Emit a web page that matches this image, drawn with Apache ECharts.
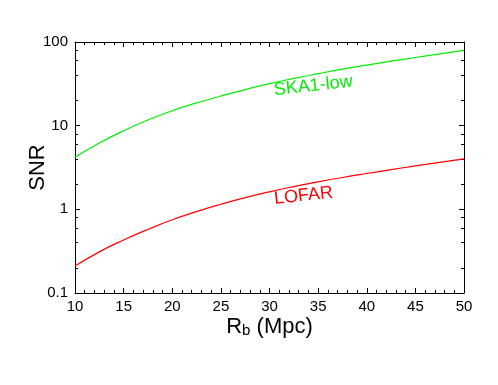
<!DOCTYPE html>
<html lang="en">

<head>
    <meta charset="UTF-8">
    <title>SNR vs Rb</title>
    <script src="https://cdn.jsdelivr.net/npm/echarts@6/dist/echarts.min.js"></script>
    <style>
        body { margin: 0; background: #fff; }
    </style>
</head>

<body>
    <div id="snrChart" style="width: 498px; height: 385px;"></div>

    <script>
        // values
        var rb = [10, 12.5, 15, 17.5, 20, 22.5, 25, 27.5, 30, 32.5, 35, 37.5, 40, 42.5, 45, 47.5, 50];
        var snrSka = [4.2, 6.2, 8.7, 11.7, 15.1, 18.7, 22.6, 27.0, 31.8, 36.7, 41.8, 47.3, 53.0, 59.0, 65.3, 72.0, 79.5];
        var snrLofar = [0.21, 0.31, 0.43, 0.575, 0.75, 0.94, 1.15, 1.38, 1.62, 1.87, 2.13, 2.4, 2.68, 2.98, 3.3, 3.64, 4.0];
        var yMinorTicks = [0.2, 0.4, 0.6, 0.8, 2, 4, 6, 8, 20, 40, 60, 80];
        var labelSka = ['SKA1-low', 34.5, 29.9];
        var labelLofar = ['LOFAR', 33.5, 1.45];

        var font = 'Liberation Sans';

        function pairs(xs, ys) {
            var out = [];
            for (var i = 0; i < xs.length; i++) {
                out.push([xs[i], ys[i]]);
            }
            return out;
        }

        var chartDom = document.getElementById('snrChart');
        var myChart = echarts.init(chartDom, null, { renderer: 'canvas' });

        var lineStyle = { color: '#000', width: 1 };

        var xBase = {
            type: 'value',
            min: 10,
            max: 50,
            interval: 5,
            axisLine: { show: true, onZero: false, lineStyle: lineStyle },
            axisTick: { show: true, inside: true, length: 5, lineStyle: lineStyle },
            minorTick: { show: true, splitNumber: 5, length: 3, lineStyle: lineStyle },
            splitLine: { show: false }
        };

        var yMajor = {
            type: 'log',
            logBase: 10,
            min: 0.1,
            max: 100,
            axisLine: { show: true, onZero: false, lineStyle: lineStyle },
            axisTick: { show: true, inside: true, length: 5, lineStyle: lineStyle },
            splitLine: { show: false }
        };

        var yMinor = {
            type: 'log',
            logBase: 10,
            min: 0.1,
            max: 100,
            axisLine: { show: false },
            axisLabel: { show: false },
            axisTick: { show: true, inside: true, length: 3, customValues: yMinorTicks, lineStyle: lineStyle },
            splitLine: { show: false }
        };

        var option = {
            animation: false,
            backgroundColor: '#fff',
            grid: { left: 75, right: 34, top: 42, bottom: 92 },
            xAxis: [
                Object.assign({}, xBase, {
                    position: 'bottom',
                    axisLabel: { show: true, fontFamily: font, fontSize: 15, color: '#000', margin: 6 },
                    name: '{r|R}{s|b}{r| (Mpc)}',
                    nameLocation: 'middle',
                    nameGap: 23,
                    nameMoveOverlap: false,
                    nameTextStyle: {
                        rich: {
                            r: { fontFamily: font, fontSize: 22, lineHeight: 22, color: '#000', verticalAlign: 'top' },
                            s: { fontFamily: font, fontSize: 15, lineHeight: 15, color: '#000', verticalAlign: 'bottom', padding: [12, 0, 0, 0] }
                        }
                    }
                }),
                Object.assign({}, xBase, {
                    position: 'top',
                    axisLabel: { show: false }
                })
            ],
            yAxis: [
                Object.assign({}, yMajor, {
                    position: 'left',
                    axisLabel: { show: true, fontFamily: font, fontSize: 15, color: '#000', margin: 7 },
                    name: 'SNR',
                    nameLocation: 'middle',
                    nameRotate: 90,
                    nameGap: 26,
                    nameMoveOverlap: false,
                    nameTextStyle: { fontFamily: font, fontSize: 22, color: '#000' }
                }),
                Object.assign({}, yMinor, { position: 'left' }),
                Object.assign({}, yMajor, { position: 'right', axisLabel: { show: false } }),
                Object.assign({}, yMinor, { position: 'right' })
            ],
            series: [
                {
                    name: 'SKA1-low',
                    type: 'line',
                    smooth: true,
                    showSymbol: false,
                    xAxisIndex: 0,
                    yAxisIndex: 0,
                    lineStyle: { color: '#00ee00', width: 1.2 },
                    data: pairs(rb, snrSka)
                },
                {
                    name: 'LOFAR',
                    type: 'line',
                    smooth: true,
                    showSymbol: false,
                    xAxisIndex: 0,
                    yAxisIndex: 0,
                    lineStyle: { color: '#ff0000', width: 1.2 },
                    data: pairs(rb, snrLofar)
                }
            ]
        };

        myChart.setOption(option);

        // curve labels placed through the axes
        function curveLabel(lbl, color) {
            var p = myChart.convertToPixel({ xAxisIndex: 0, yAxisIndex: 0 }, [lbl[1], lbl[2]]);
            return {
                type: 'text',
                x: p[0],
                y: p[1],
                rotation: 0.11,
                style: {
                    text: lbl[0],
                    fill: color,
                    font: '18px ' + font,
                    align: 'center',
                    verticalAlign: 'middle'
                }
            };
        }

        myChart.setOption({
            graphic: [curveLabel(labelSka, '#00ee00'), curveLabel(labelLofar, '#ff0000')]
        });
    </script>

</body>

</html>
